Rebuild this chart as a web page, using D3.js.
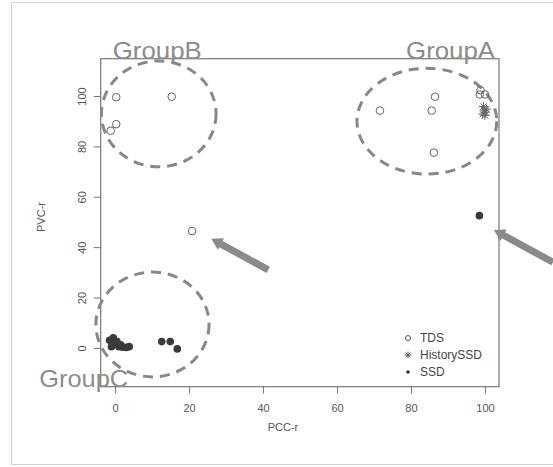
<!DOCTYPE html>
<html>
<head>
<meta charset="utf-8">
<script src="https://cdn.jsdelivr.net/npm/d3@7"></script>
<style>
  body { margin: 0; background: #fff; }
  text { font-family: "Liberation Sans", Arial, sans-serif; }
</style>
</head>
<body>
<svg id="my_svg"></svg>
<script>
const width = 553;
const height = 467;

// data (PCC-r, PVC-r)
const tds = [
    [0.3, 99.5], [15.3, 99.7], [0.3, 88.8], [-1.2, 86.2],
    [20.8, 46.4],
    [71.6, 94.2], [86.5, 99.7], [85.6, 94.2], [86.2, 77.5],
    [98.8, 102.3], [98.6, 100.6], [100.0, 100.6]
];
const historySSD = [
    [99.6, 95.8], [99.8, 94.4], [100.2, 93.6], [99.4, 92.8], [100.0, 92.3], [100.4, 94.8]
];
const ssd = [
    [98.5, 52.5],
    [-1.5, 3.0], [-0.5, 4.0], [0.0, 2.0], [-1.0, 0.5], [0.5, 2.5], [1.0, 0.5],
    [1.5, 1.2], [2.0, 0.3], [3.0, 0.2], [3.8, 0.5],
    [12.6, 2.5], [14.9, 2.5], [16.8, -0.4]
];

const xTicks = [0, 20, 40, 60, 80, 100];
const yTicks = [0, 20, 40, 60, 80, 100];
const legendLabels = ['TDS', 'HistorySSD', 'SSD'];

// annotations in data units
const groupLabels = [
    { name: 'GroupB', x: 11.4, y: 114.7 },
    { name: 'GroupA', x: 90.7, y: 114.7 },
    { name: 'GroupC', x: -8.5, y: -15.5 }
];
const groupRings = [
    { cx: 11.8, cy: 92.9, rx: 15.5, ry: 21.0 },
    { cx: 84.3, cy: 90.0, rx: 18.9, ry: 21.0 },
    { cx: 10.1, cy: 9.3, rx: 15.3, ry: 20.8 }
];
const arrows = [
    { x1: 41.4, y1: 31.0, x2: 26.0, y2: 43.3 },
    { x1: 118.4, y1: 34.0, x2: 102.4, y2: 46.8 }
];

const svg = d3.select('#my_svg')
    .attr('width', width)
    .attr('height', height);

// outer frame of the picture
svg.append('rect')
    .attr('x', 11.5).attr('y', 2.5)
    .attr('width', width + 10).attr('height', 462)
    .attr('fill', 'none')
    .attr('stroke', '#d4d4d4');

const plotL = 100.7, plotR = 499, plotT = 58.7, plotB = 386.7;

const x = d3.scaleLinear().domain([-3.9, 103.8]).range([plotL, plotR]);
const y = d3.scaleLinear().domain([-15.4, 114.8]).range([plotB, plotT]);

const axisColor = '#777';
const textColor = '#555';

// x axis
const xAxis = svg.append('g')
    .attr('transform', `translate(0, ${plotB})`)
    .call(d3.axisBottom(x).tickValues(xTicks).tickSize(7).tickPadding(11));
xAxis.select('.domain').remove();
xAxis.selectAll('line').attr('stroke', axisColor);
xAxis.selectAll('text')
    .attr('fill', textColor)
    .style('font-size', '11px');

// y axis, labels rotated like base R
const yAxis = svg.append('g')
    .attr('transform', `translate(${plotL}, 0)`)
    .call(d3.axisLeft(y).tickValues(yTicks).tickSize(7));
yAxis.select('.domain').remove();
yAxis.selectAll('line').attr('stroke', axisColor);
yAxis.selectAll('text')
    .attr('fill', textColor)
    .attr('transform', 'rotate(-90)')
    .attr('x', 0)
    .attr('y', -19)
    .attr('dy', '0.35em')
    .attr('text-anchor', 'middle')
    .style('font-size', '11px');

// plot box
svg.append('rect')
    .attr('x', plotL).attr('y', plotT)
    .attr('width', plotR - plotL).attr('height', plotB - plotT)
    .attr('fill', 'none')
    .attr('stroke', axisColor)
    .attr('stroke-width', 1.2);

// axis titles
svg.append('text')
    .attr('x', 283).attr('y', 431)
    .attr('text-anchor', 'middle')
    .attr('fill', textColor)
    .style('font-size', '11px')
    .text('PCC-r');
svg.append('text')
    .attr('transform', 'translate(45, 217) rotate(-90)')
    .attr('text-anchor', 'middle')
    .attr('fill', textColor)
    .style('font-size', '11px')
    .text('PVC-r');

// dashed group rings
svg.append('g')
    .selectAll('ellipse')
    .data(groupRings)
    .enter().append('ellipse')
    .attr('cx', d => x(d.cx))
    .attr('cy', d => y(d.cy))
    .attr('rx', d => x(d.cx + d.rx) - x(d.cx))
    .attr('ry', d => y(d.cy) - y(d.cy + d.ry))
    .attr('fill', 'none')
    .attr('stroke', '#888')
    .attr('stroke-width', 3)
    .attr('stroke-dasharray', '10,7');

// arrows (shaft + head as one polygon)
function arrowPath(d) {
    const x1 = x(d.x1), y1 = y(d.y1), x2 = x(d.x2), y2 = y(d.y2);
    const len = Math.hypot(x2 - x1, y2 - y1);
    const ux = (x2 - x1) / len, uy = (y2 - y1) / len;
    const nx = -uy, ny = ux;
    const sw = 3.5, hw = 6.5, hl = 11;
    const bx = x2 - ux * hl, by = y2 - uy * hl;
    const p = [
        [x1 + nx * sw, y1 + ny * sw],
        [bx + nx * sw, by + ny * sw],
        [bx + nx * hw, by + ny * hw],
        [x2, y2],
        [bx - nx * hw, by - ny * hw],
        [bx - nx * sw, by - ny * sw],
        [x1 - nx * sw, y1 - ny * sw]
    ];
    return 'M' + p.map(q => q.join(',')).join('L') + 'Z';
}
svg.append('g')
    .selectAll('path')
    .data(arrows)
    .enter().append('path')
    .attr('d', arrowPath)
    .attr('fill', '#8a8a8a');

// group labels
svg.append('g')
    .selectAll('text')
    .data(groupLabels)
    .enter().append('text')
    .attr('x', d => x(d.x))
    .attr('y', d => y(d.y))
    .attr('text-anchor', 'middle')
    .attr('fill', '#8c8c8c')
    .attr('textLength', 89)
    .attr('lengthAdjust', 'spacingAndGlyphs')
    .style('font-size', '24px')
    .text(d => d.name);

// R pch 8: plus over cross
function starPath(cx, cy, r) {
    const a = r * Math.SQRT1_2;
    return `M${cx - r},${cy}L${cx + r},${cy}M${cx},${cy - r}L${cx},${cy + r}` +
        `M${cx - a},${cy - a}L${cx + a},${cy + a}M${cx - a},${cy + a}L${cx + a},${cy - a}`;
}

const pts = svg.append('g');
pts.selectAll('circle.tds')
    .data(tds)
    .enter().append('circle')
    .attr('class', 'tds')
    .attr('cx', d => x(d[0]))
    .attr('cy', d => y(d[1]))
    .attr('r', 3.8)
    .attr('fill', 'none')
    .attr('stroke', '#666')
    .attr('stroke-width', 1);
pts.selectAll('path.hist')
    .data(historySSD)
    .enter().append('path')
    .attr('class', 'hist')
    .attr('d', d => starPath(x(d[0]), y(d[1]), 4.5))
    .attr('stroke', '#666')
    .attr('stroke-width', 1)
    .attr('fill', 'none');
pts.selectAll('circle.ssd')
    .data(ssd)
    .enter().append('circle')
    .attr('class', 'ssd')
    .attr('cx', d => x(d[0]))
    .attr('cy', d => y(d[1]))
    .attr('r', 3.8)
    .attr('fill', '#3a3a3a');

// legend
const legend = svg.append('g').attr('transform', 'translate(408, 338)');
const item = legend.selectAll('g')
    .data(legendLabels)
    .enter().append('g')
    .attr('transform', (d, i) => `translate(0, ${i * 17})`);
item.each(function(d, i) {
    const g = d3.select(this);
    if (i === 0) {
        g.append('circle').attr('r', 2.5).attr('fill', 'none').attr('stroke', '#555');
    } else if (i === 1) {
        g.append('path').attr('d', starPath(0, 0, 3.5)).attr('stroke', '#555');
    } else {
        g.append('circle').attr('r', 1.8).attr('fill', '#333');
    }
});
item.append('text')
    .attr('x', 12)
    .attr('dy', '0.36em')
    .attr('fill', '#444')
    .style('font-size', '12px')
    .text(d => d);
</script>
</body>
</html>
